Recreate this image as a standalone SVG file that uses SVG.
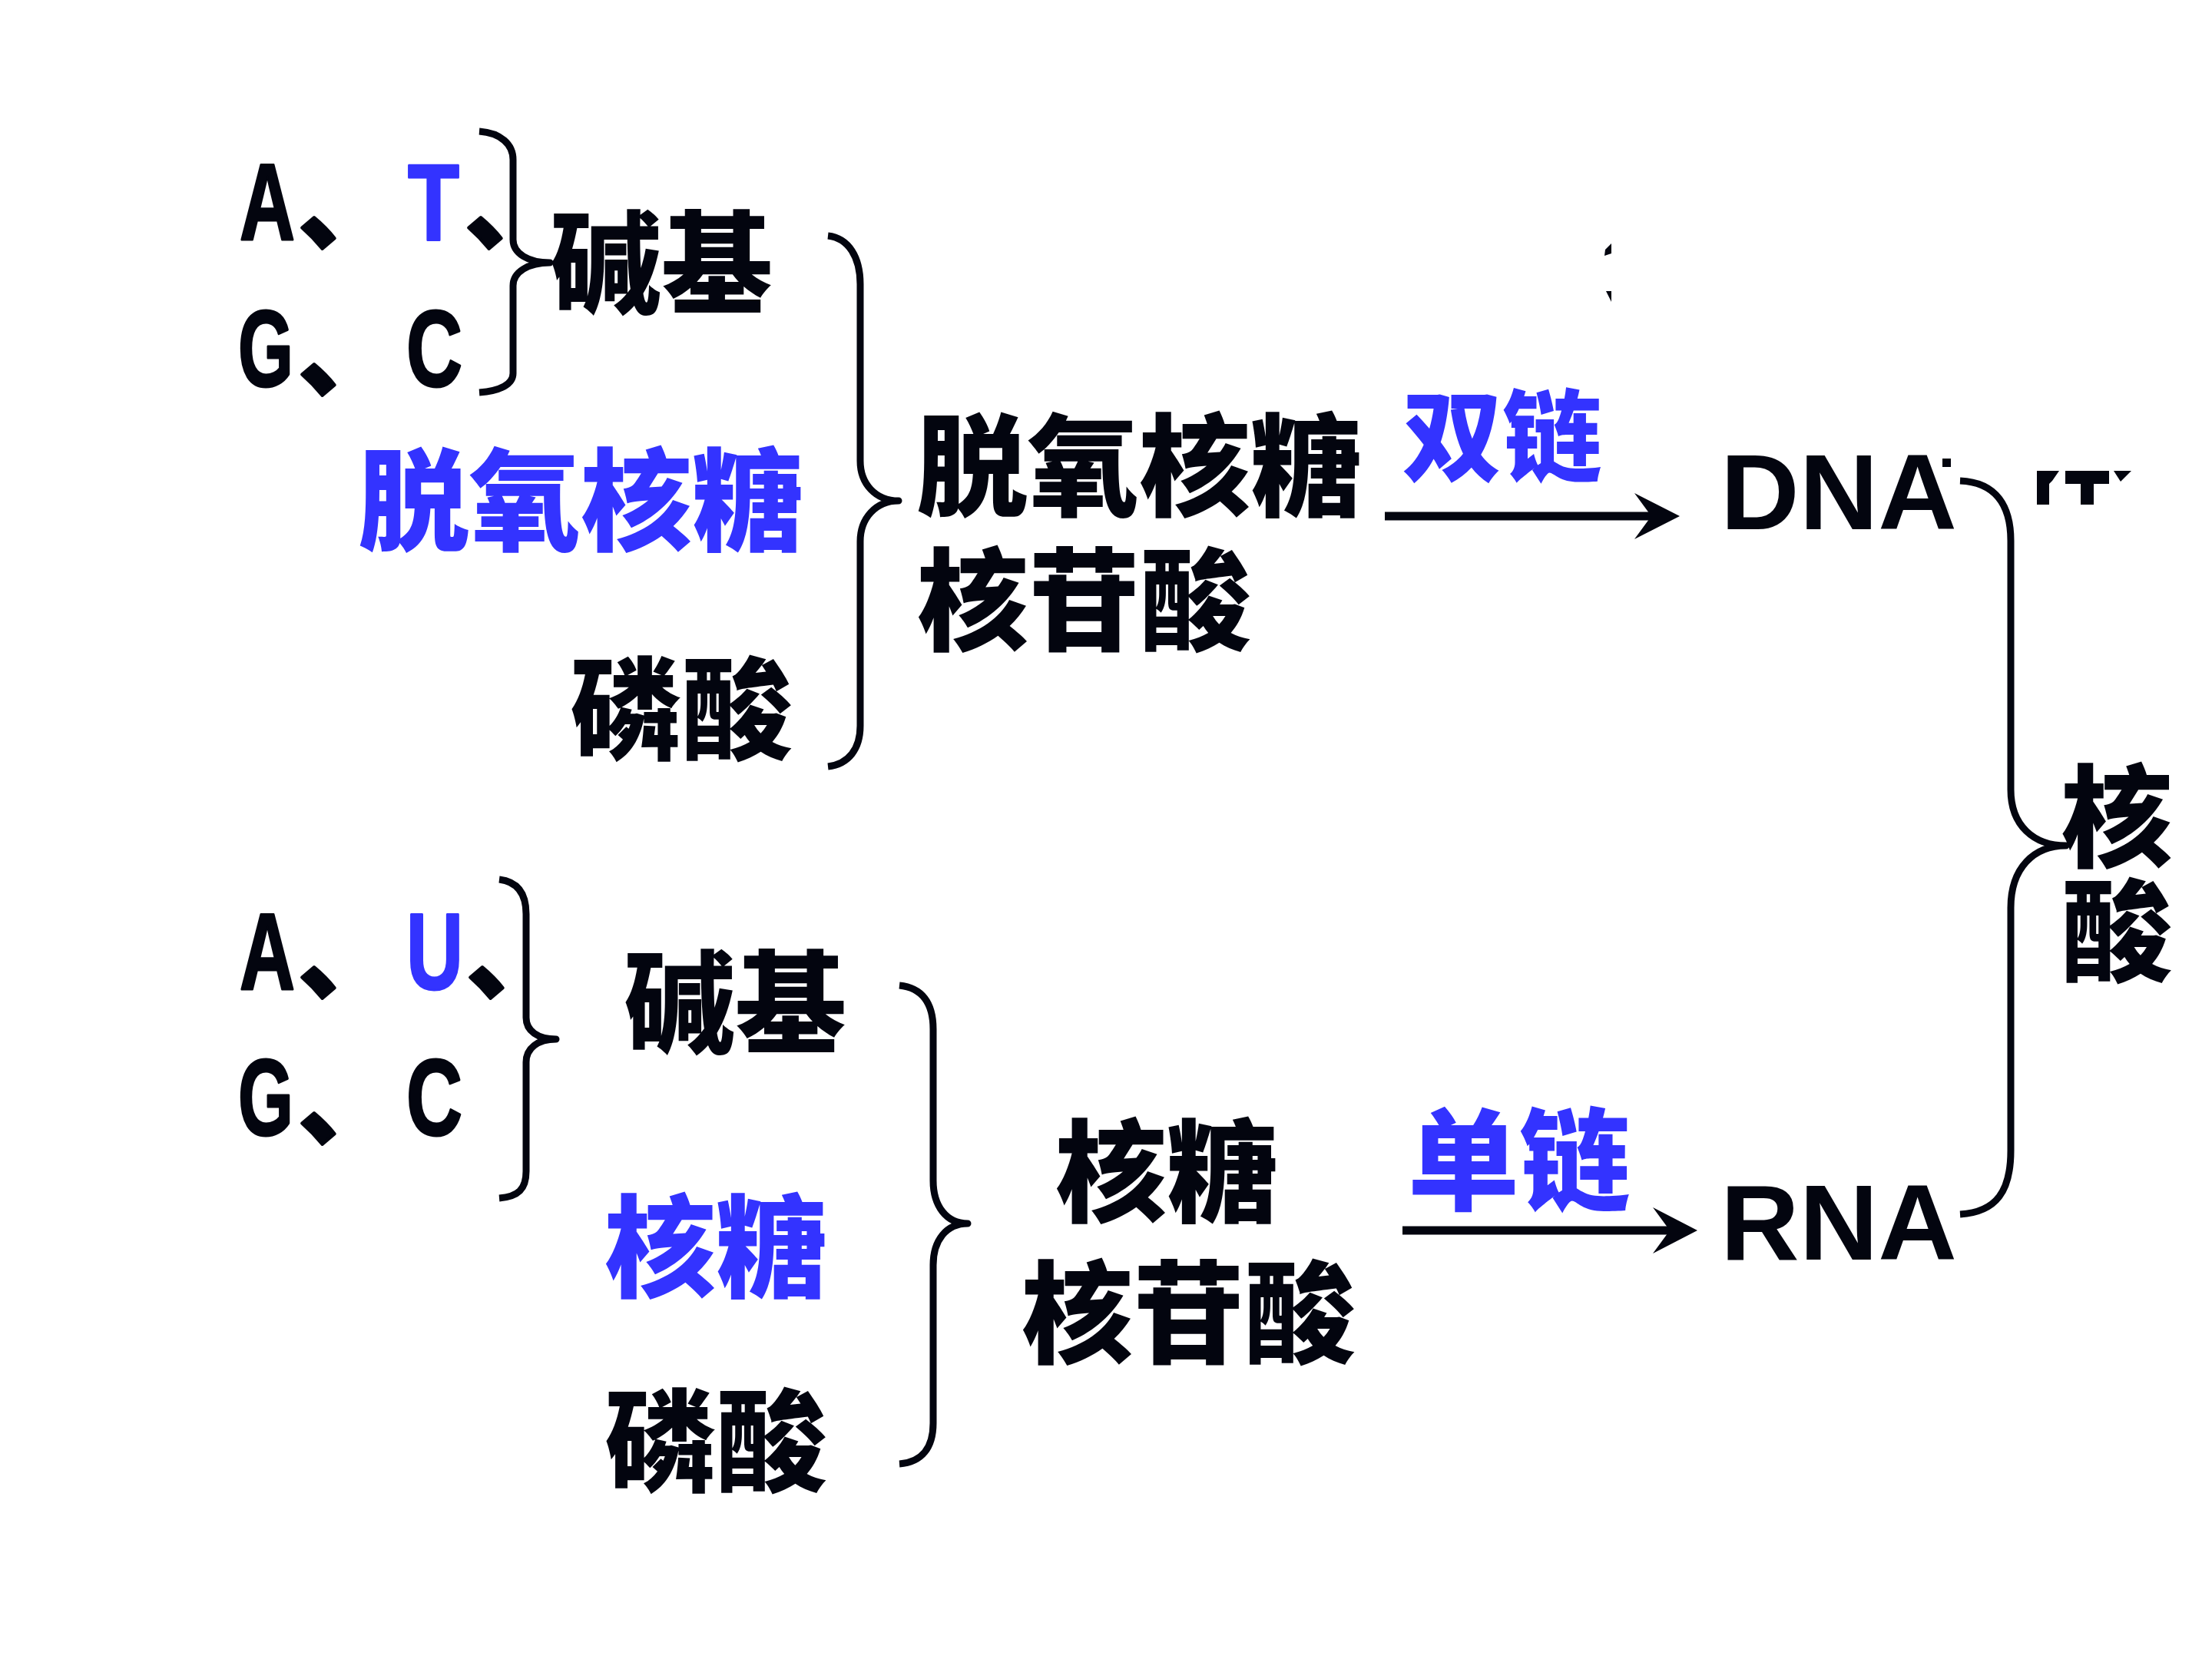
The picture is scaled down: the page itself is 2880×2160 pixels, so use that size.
<svg xmlns="http://www.w3.org/2000/svg" width="2880" height="2160" viewBox="0 0 2880 2160">
<defs>
<style>
.cjk{font-family:"Noto Sans CJK SC","Noto Sans CJK TC",sans-serif;font-weight:900;font-size:145px}
.lat{font-family:"Liberation Sans",Arial,sans-serif;font-weight:700;font-size:141px;stroke-width:3;stroke-linejoin:round}
.big{font-family:"Liberation Sans",Arial,sans-serif;font-weight:700;font-size:140px}
.k{fill:#03050f}
.b{fill:#3333ff}
.lat .k{stroke:#03050f}
.lat .b{stroke:#3333ff}
.cm{font-family:"Noto Sans CJK SC",sans-serif;font-weight:900;font-size:125px;fill:#03050f;stroke:#03050f;stroke-width:4}
.vert{writing-mode:vertical-rl;text-orientation:upright;letter-spacing:4px}
.br{fill:none;stroke:#03050f;stroke-width:9;stroke-linecap:butt;stroke-linejoin:round}
.ln{fill:none;stroke:#03050f;stroke-width:11}
.ah{fill:#03050f}
</style>
</defs>
<rect width="2880" height="2160" fill="#ffffff"/>

<g id="bases-dna">
<text class="lat" y="312"><tspan class="k" x="312" textLength="72" lengthAdjust="spacingAndGlyphs">A</tspan><tspan class="cm" x="389" y="314">、</tspan><tspan class="b" x="531" y="312" textLength="67" lengthAdjust="spacingAndGlyphs">T</tspan><tspan class="cm" x="606" y="314">、</tspan></text>
<text class="lat" y="503"><tspan class="k" x="310" textLength="72" lengthAdjust="spacingAndGlyphs">G</tspan><tspan class="cm" x="389" y="505">、</tspan><tspan class="k" x="529" y="503" textLength="73" lengthAdjust="spacingAndGlyphs">C</tspan></text>
</g>
<g id="base-label-dna"><text class="cjk k" x="716" y="397">碱基</text></g>
<g id="sugar-dna"><text class="cjk b" x="466" y="706">脱氧核糖</text></g>
<g id="phosphate-dna"><text class="cjk k" x="742" y="978">磷酸</text></g>
<g id="nucleotide-dna">
<text class="cjk k" x="1193" y="661">脱氧核糖</text>
<text class="cjk k" x="1194" y="836">核苷酸</text>
</g>
<g id="dna"><text class="big k" x="2240" y="689" textLength="308" lengthAdjust="spacingAndGlyphs">DNA</text></g>

<g id="bases-rna">
<text class="lat" y="1288"><tspan class="k" x="312" textLength="72" lengthAdjust="spacingAndGlyphs">A</tspan><tspan class="cm" x="389" y="1290">、</tspan><tspan class="b" x="529" y="1288" textLength="74" lengthAdjust="spacingAndGlyphs">U</tspan><tspan class="cm" x="608" y="1290">、</tspan></text>
<text class="lat" y="1478"><tspan class="k" x="310" textLength="72" lengthAdjust="spacingAndGlyphs">G</tspan><tspan class="cm" x="389" y="1480">、</tspan><tspan class="k" x="529" y="1478" textLength="73" lengthAdjust="spacingAndGlyphs">C</tspan></text>
</g>
<g id="base-label-rna"><text class="cjk k" x="812" y="1360">碱基</text></g>
<g id="sugar-rna"><text class="cjk b" x="787" y="1678">核糖</text></g>
<g id="phosphate-rna"><text class="cjk k" x="787" y="1931">磷酸</text></g>
<g id="nucleotide-rna">
<text class="cjk k" x="1374" y="1580">核糖</text>
<text class="cjk k" x="1330" y="1764">核苷酸</text>
</g>
<g id="rna"><text class="big k" x="2240" y="1640" textLength="308" lengthAdjust="spacingAndGlyphs">RNA</text></g>

<g id="nucleic-acid">
<text class="cjk k vert" x="2756" y="990">核酸</text>
</g>

<g id="connectors">
<path class="br" d="M624,171 C652,173 668,188 668,208 L668,312 C668,330 688,342 716,342 C688,342 668,354 668,372 L668,486 C668,500 652,509 624,511"/>
<path class="br" d="M1078,307 C1105,310 1120,335 1120,370 L1120,600 C1120,630 1140,652 1170,652 C1140,652 1120,675 1120,705 L1120,945 C1120,975 1105,995 1078,998"/>
<path class="br" d="M650,1145 C675,1148 685,1165 685,1190 L685,1325 C685,1342 700,1353 724,1353 C700,1353 685,1365 685,1383 L685,1525 C685,1548 675,1558 650,1560"/>
<path class="br" d="M1171,1283 C1200,1286 1215,1305 1215,1340 L1215,1537 C1215,1570 1232,1593 1260,1593 C1232,1593 1215,1615 1215,1647 L1215,1853 C1215,1885 1200,1904 1171,1906"/>
<path class="br" d="M2552,626 C2600,628 2618,660 2618,704 L2618,1028 C2618,1075 2648,1101 2690,1101 C2648,1101 2618,1130 2618,1182 L2618,1498 C2618,1550 2600,1578 2552,1581"/>
<line class="ln" x1="1803" y1="672" x2="2158" y2="672"/>
<polygon class="ah" points="2187,672 2128,642 2150,672 2128,702"/>
<line class="ln" x1="1826" y1="1602" x2="2180" y2="1602"/>
<polygon class="ah" points="2210,1602 2152,1572 2174,1602 2152,1632"/>
</g>
<g id="chain-labels">
<text class="cjk b" x="1826" y="616" style="font-size:130px">双链</text>
<text class="cjk b" x="1833" y="1565">单链</text>
</g>

<g id="fragments" fill="#03050f">
<rect x="2529" y="597" width="11" height="11"/>
<polygon points="2652,613 2681,613 2672,626 2668,630 2668,657 2652,657"/>
<polygon points="2689,613 2746,613 2746,630 2726,630 2726,657 2709,657 2709,630 2689,630"/>
<polygon points="2752,613 2775,613 2761,627"/>
<polygon points="2090,325 2098,317 2098,330 2089,333"/>
<polygon points="2091,379 2098,379 2098,393"/>
</g>
</svg>
